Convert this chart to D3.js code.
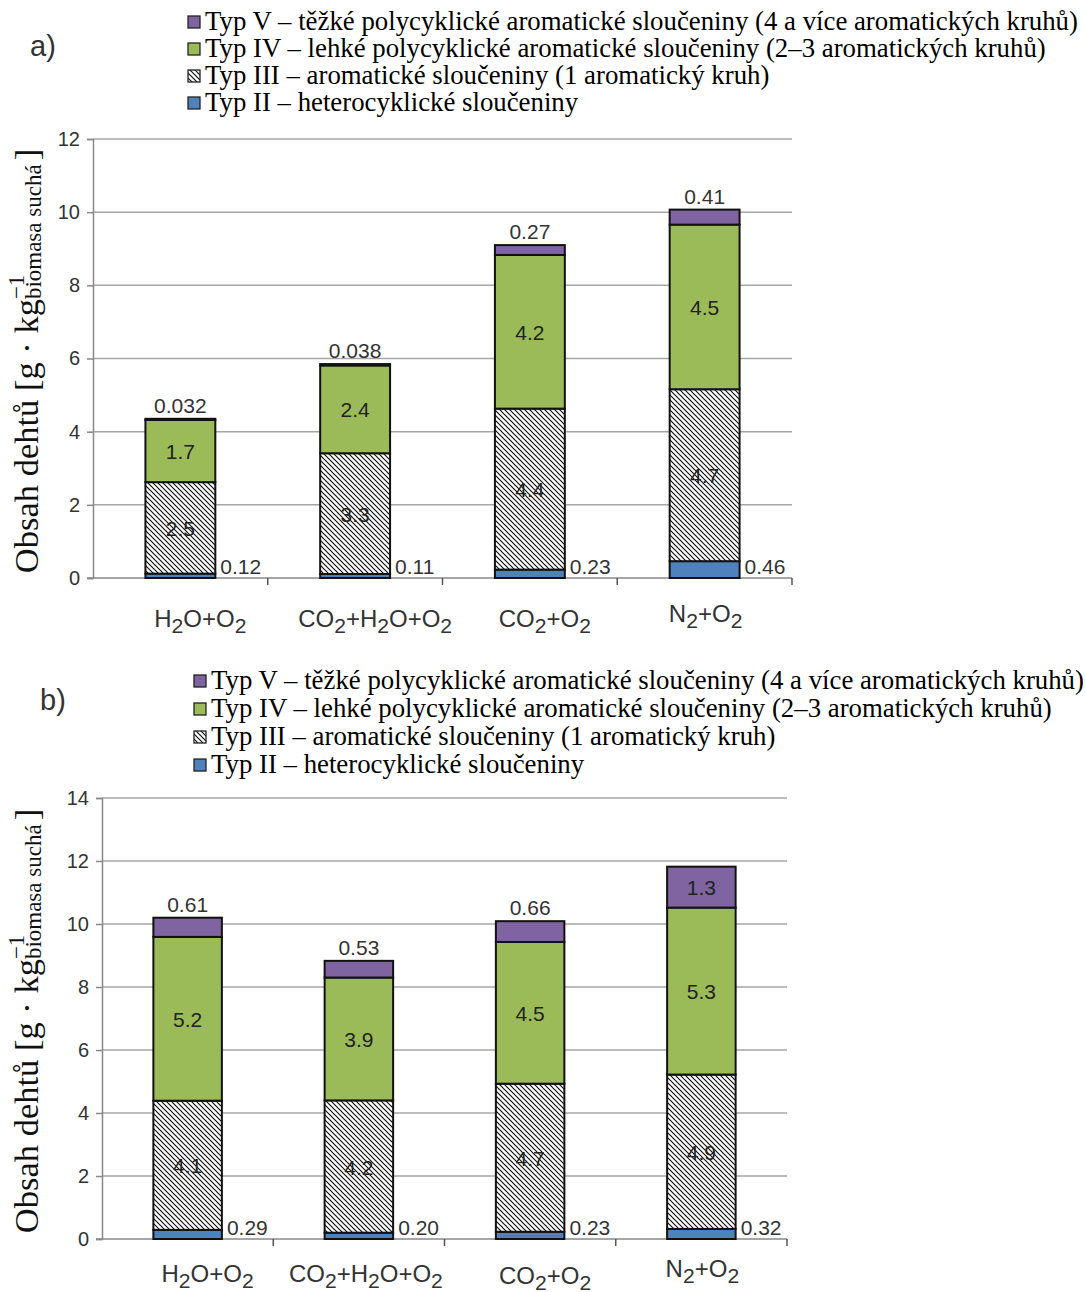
<!DOCTYPE html>
<html>
<head>
<meta charset="utf-8">
<script src="https://cdn.jsdelivr.net/npm/d3@7"></script>
<style>
  body { margin: 0; background: #fff; }
  svg { display: block; }
</style>
</head>
<body>
<svg id="chart" width="1085" height="1292"></svg>
<script>
// categories and series names
var categories = ["H2O+O2", "CO2+H2O+O2", "CO2+O2", "N2+O2"];
var seriesKeys = ["II", "III", "IV", "V"];
var seriesNames = [
  "Typ II – heterocyklické sloučeniny",
  "Typ III – aromatické sloučeniny (1 aromatický kruh)",
  "Typ IV – lehké polycyklické aromatické sloučeniny (2–3 aromatických kruhů)",
  "Typ V – těžké polycyklické aromatické sloučeniny (4 a více aromatických kruhů)"
];

// panel a) values (kept as the printed strings)
var typIIa  = ["0.12", "0.11", "0.23", "0.46"];
var typIIIa = ["2.5", "3.3", "4.4", "4.7"];
var typIVa  = ["1.7", "2.4", "4.2", "4.5"];
var typVa   = ["0.032", "0.038", "0.27", "0.41"];
var ticksA  = [0, 2, 4, 6, 8, 10, 12];

// panel b) values
var typIIb  = ["0.29", "0.20", "0.23", "0.32"];
var typIIIb = ["4.1", "4.2", "4.7", "4.9"];
var typIVb  = ["5.2", "3.9", "4.5", "5.3"];
var typVb   = ["0.61", "0.53", "0.66", "1.3"];
var ticksB  = [0, 2, 4, 6, 8, 10, 12, 14];

var colors = { II: "#4f81bd", III: "url(#hatch)", IV: "#9bbb59", V: "#8064a2" };
var sans = "'Liberation Sans', Arial, sans-serif";
var serif = "'Liberation Serif', 'Times New Roman', serif";

var svg = d3.select("#chart");

// hatch pattern for Typ III
var defs = svg.append("defs");
var pat = defs.append("pattern").attr("id", "hatch").attr("patternUnits", "userSpaceOnUse")
  .attr("width", 5).attr("height", 5);
pat.append("rect").attr("width", 5).attr("height", 5).attr("fill", "#fff");
pat.append("path").attr("d", "M0,0 L5,5 M-1,4 L1,6 M4,-1 L6,1")
  .attr("stroke", "#111").attr("stroke-width", 1.2);

// text with digits as subscripts
function chemText(sel, label, size) {
  var shift = 0;
  label.split(/(\d)/).forEach(function(p) {
    if (p === "") return;
    var isSub = /\d/.test(p);
    var target = isSub ? 6 : 0;
    sel.append("tspan").attr("dy", target - shift)
      .attr("font-size", isSub ? size * 0.88 : size).text(p);
    shift = target;
  });
}

function drawPanel(cfg) {
  var g = svg.append("g");
  var table = categories.map(function(c, i) {
    return { cat: c, II: +cfg.II[i], III: +cfg.III[i], IV: +cfg.IV[i], V: +cfg.V[i],
             lab: { II: cfg.II[i], III: cfg.III[i], IV: cfg.IV[i], V: cfg.V[i] } };
  });

  var x = d3.scaleBand().domain(categories).range([cfg.left, cfg.right]);
  var y = d3.scaleLinear().domain([0, d3.max(cfg.ticks)]).range([cfg.bottom, cfg.top]);
  var barW = x.bandwidth() * 0.4;

  // panel letter
  g.append("text").attr("x", cfg.letterX).attr("y", cfg.letterY)
    .attr("font-family", sans).attr("font-size", 29).attr("fill", "#333").text(cfg.letter);

  // legend (Typ V on top)
  var leg = g.append("g");
  seriesKeys.slice().reverse().forEach(function(k, i) {
    var idx = seriesKeys.indexOf(k);
    var yy = cfg.legY + i * cfg.legStep;
    leg.append("rect").attr("x", cfg.legX).attr("y", yy - 14).attr("width", 12).attr("height", 12)
      .attr("fill", colors[k]).attr("stroke", "#222").attr("stroke-width", 1.3);
    leg.append("text").attr("x", cfg.legX + 17).attr("y", yy)
      .attr("font-family", serif).attr("font-size", cfg.legSize).attr("fill", "#000")
      .text(seriesNames[idx]);
  });

  // grid lines
  g.append("g").selectAll("line").data(cfg.ticks.filter(function(t) { return t > 0; })).enter()
    .append("line")
    .attr("x1", cfg.left).attr("x2", cfg.right)
    .attr("y1", function(d) { return y(d); }).attr("y2", function(d) { return y(d); })
    .attr("stroke", "#a6a6a6").attr("stroke-width", 1.5);

  // y axis
  var yAx = g.append("g").attr("transform", "translate(" + cfg.left + ",0)")
    .call(d3.axisLeft(y).tickValues(cfg.ticks).tickSize(6).tickPadding(7).tickFormat(d3.format("d")));
  yAx.select(".domain").attr("stroke", "#888").attr("stroke-width", 1.5);
  yAx.selectAll(".tick line").attr("stroke", "#888").attr("stroke-width", 1.5);
  yAx.selectAll(".tick text").attr("font-family", sans).attr("font-size", 20).attr("fill", "#333");

  // x axis
  g.append("line").attr("x1", cfg.left - 6).attr("x2", cfg.right)
    .attr("y1", cfg.bottom).attr("y2", cfg.bottom).attr("stroke", "#888").attr("stroke-width", 1.5);
  g.append("g").selectAll("line").data(categories).enter().append("line")
    .attr("x1", function(d) { return x(d) + x.bandwidth(); })
    .attr("x2", function(d) { return x(d) + x.bandwidth(); })
    .attr("y1", cfg.bottom).attr("y2", cfg.bottom + 7)
    .attr("stroke", "#555").attr("stroke-width", 1.5);

  categories.forEach(function(c, i) {
    var t = g.append("text").attr("x", x(c) + x.bandwidth() / 2 + cfg.labelNudge[i])
      .attr("y", cfg.catY + cfg.labelLift[i]).attr("text-anchor", "middle")
      .attr("font-family", sans).attr("font-size", 24).attr("fill", "#333");
    chemText(t, c, 24);
  });

  // stacked bars
  var stack = d3.stack().keys(seriesKeys)(table);
  stack.forEach(function(layer) {
    var k = layer.key;
    g.append("g").selectAll("rect").data(layer).enter().append("rect")
      .attr("x", function(d) { return x(d.data.cat) + (x.bandwidth() - barW) / 2; })
      .attr("y", function(d) { return y(d[1]); })
      .attr("width", barW)
      .attr("height", function(d) { return y(d[0]) - y(d[1]); })
      .attr("fill", colors[k]).attr("stroke", "#111").attr("stroke-width", 2);
  });

  // value labels
  stack.forEach(function(layer) {
    var k = layer.key;
    layer.forEach(function(d) {
      var cx = x(d.data.cat) + x.bandwidth() / 2;
      var h = y(d[0]) - y(d[1]);
      var t = g.append("text").attr("font-family", sans).attr("font-size", 21).attr("fill", "#333")
        .text(d.data.lab[k]);
      if (k === "II") {
        t.attr("x", cx + barW / 2 + 5).attr("y", cfg.bottom - 4);
      } else if (h > 28) {
        t.attr("x", cx).attr("y", (y(d[0]) + y(d[1])) / 2 + 8).attr("text-anchor", "middle")
          .attr("fill", "#222");
      } else {
        t.attr("x", cx).attr("y", y(d[1]) - 6).attr("text-anchor", "middle");
      }
    });
  });

  // y axis title with stacked super/subscript
  var tg = g.append("g");
  var main = tg.append("text").attr("font-family", serif).attr("font-size", 34.5).attr("fill", "#111")
    .text("Obsah dehtů [g · kg");
  var w = main.node().getComputedTextLength();
  var sup = tg.append("text").attr("x", w).attr("y", -14).attr("font-family", serif)
    .attr("font-size", 23).attr("fill", "#111").text("−1");
  var sub = tg.append("text").attr("x", w).attr("y", 3).attr("font-family", serif)
    .attr("font-size", 23).attr("fill", "#111").text("biomasa suchá");
  var w2 = Math.max(sup.node().getComputedTextLength(), sub.node().getComputedTextLength());
  var br = tg.append("text").attr("x", w + w2 + 4).attr("font-family", serif).attr("font-size", 34.5)
    .attr("fill", "#111").text("]");
  var total = w + w2 + 4 + br.node().getComputedTextLength();
  tg.attr("transform", "translate(" + cfg.titleX + "," + (cfg.titleY + total / 2) + ") rotate(-90)");
}

drawPanel({
  II: typIIa, III: typIIIa, IV: typIVa, V: typVa, ticks: ticksA,
  left: 93, right: 792, top: 139, bottom: 578,
  letter: "a)", letterX: 30, letterY: 56,
  legX: 188, legY: 30, legStep: 27, legSize: 26.8,
  catY: 627, labelNudge: [20, 20, 15, 1], labelLift: [0, 0, 0, -5],
  titleX: 38, titleY: 361
});

drawPanel({
  II: typIIb, III: typIIIb, IV: typIVb, V: typVb, ticks: ticksB,
  left: 102, right: 787, top: 798, bottom: 1239,
  letter: "b)", letterX: 40, letterY: 710,
  legX: 194, legY: 689, legStep: 28, legSize: 26.8,
  catY: 1282, labelNudge: [20, 7, 15, 1], labelLift: [0, 0, 2, -5],
  titleX: 38, titleY: 1021
});
</script>
</body>
</html>
